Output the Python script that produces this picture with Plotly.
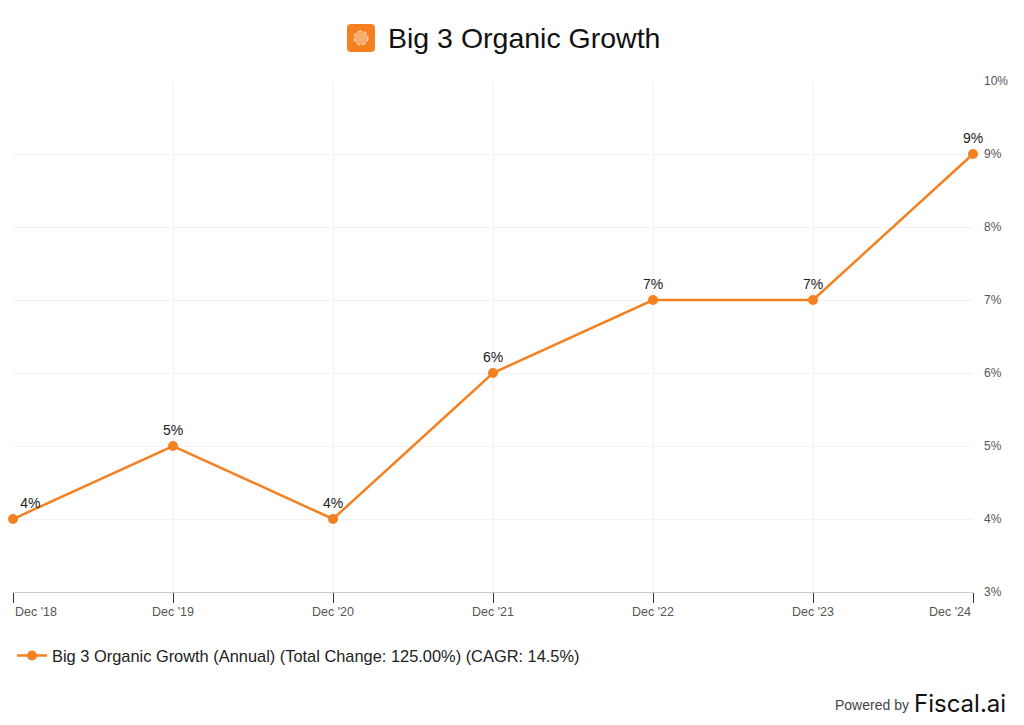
import plotly.graph_objects as go

# data
periods = ["Dec '18", "Dec '19", "Dec '20", "Dec '21", "Dec '22", "Dec '23", "Dec '24"]
growth = [4, 5, 4, 6, 7, 7, 9]
labels = ["4%", "5%", "4%", "6%", "7%", "7%", "9%"]
series_name = "Big 3 Organic Growth (Annual) (Total Change: 125.00%) (CAGR: 14.5%)"
y_ticks = [3, 4, 5, 6, 7, 8, 9, 10]

orange = "#F5801F"

# first label would fall off the page edge, nudge it right
text_pos = ["top right"] + ["top center"] * (len(periods) - 1)

fig = go.Figure()
fig.add_trace(go.Scatter(
    x=periods, y=growth, text=labels,
    mode="lines+markers+text",
    textposition=text_pos,
    textfont=dict(size=14, color="#222222"),
    line=dict(color=orange, width=2.5),
    marker=dict(color=orange, size=10),
    cliponaxis=False,
    name=series_name,
    showlegend=True,
))

# page body has an 8px margin, so the figure is a bit smaller than the window
fig.update_layout(
    width=1016, height=717,
    margin=dict(l=5, r=51, t=73, b=133, autoexpand=False),
    paper_bgcolor="white", plot_bgcolor="white",
    font=dict(family="Liberation Sans, Arial, sans-serif"),
    xaxis=dict(
        type="category", range=[0, 6], automargin=False,
        showgrid=True, gridcolor="#f3f3f3",
        showline=True, linecolor="#cccccc", linewidth=1,
        ticks="outside", ticklen=10, tickcolor="#333333",
        showticklabels=False, zeroline=False,
    ),
    yaxis=dict(
        side="right", range=[3, 10], tickvals=y_ticks, automargin=False,
        ticktext=[f"{v}%" for v in y_ticks],
        showgrid=True, gridcolor="#f3f3f3", zeroline=False,
        tickfont=dict(size=12, color="#555555"),
        ticklabelstandoff=10,
    ),
    legend=dict(
        orientation="h", x=-0.001, y=-0.125, yanchor="middle", xanchor="left",
        font=dict(size=16.4, color="#222222"),
    ),
    showlegend=True,
)

# x tick labels, edge labels kept inside the plot like the original
last = len(periods) - 1
for i, p in enumerate(periods):
    anchor = "left" if i == 0 else ("right" if i == last else "center")
    fig.add_annotation(
        text=p, x=i, xref="x", y=-0.039, yref="paper",
        xanchor=anchor, yanchor="middle", showarrow=False,
        font=dict(size=12.5, color="#555555"),
    )

# title with logo
fig.add_annotation(
    text="Big 3 Organic Growth", xref="paper", yref="paper",
    x=0.532, y=1.084, xanchor="center", yanchor="middle",
    showarrow=False, font=dict(size=28.5, color="#111111"),
)
fig.add_shape(
    type="path", xref="paper", yref="paper",
    xsizemode="pixel", ysizemode="pixel",
    xanchor=0.3625, yanchor=1.0841,
    path="M -10 -14 L 10 -14 Q 14 -14 14 -10 L 14 10 Q 14 14 10 14 L -10 14 Q -14 14 -14 10 L -14 -10 Q -14 -14 -10 -14 Z",
    fillcolor=orange, line=dict(width=0),
)
fig.add_shape(
    type="circle", xref="paper", yref="paper",
    xsizemode="pixel", ysizemode="pixel",
    xanchor=0.3625, yanchor=1.0841,
    x0=-7, x1=7, y0=-7, y1=7,
    fillcolor="rgba(255,255,255,0.35)", line=dict(color="rgba(255,255,255,0.8)", width=1, dash="dot"),
)

# footer
fig.add_annotation(
    text="Powered by", xref="paper", yref="paper",
    x=0.935, y=-0.221, xanchor="right", yanchor="middle",
    showarrow=False, font=dict(size=14, color="#444444"),
)
fig.add_annotation(
    text="Fiscal.ai", xref="paper", yref="paper",
    x=1.036, y=-0.219, xanchor="right", yanchor="middle",
    showarrow=False, font=dict(family="Inter, sans-serif", size=24, color="#111111"),
)

fig.write_html("out.html")
